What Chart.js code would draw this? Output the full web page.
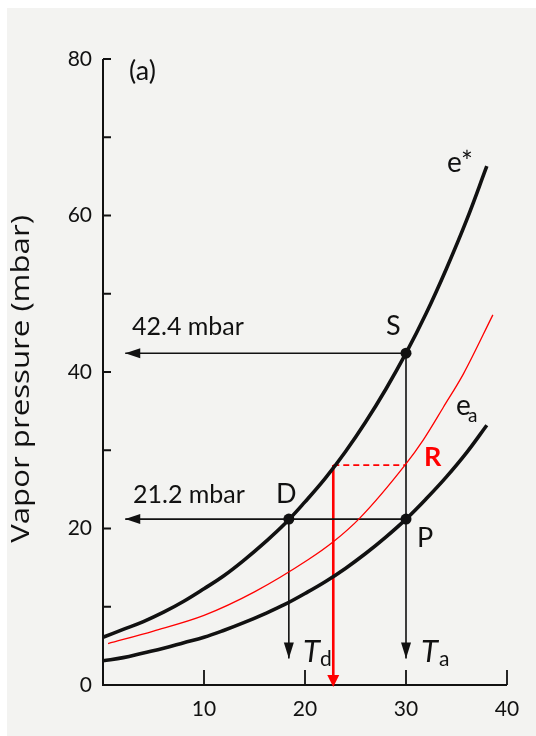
<!DOCTYPE html>
<html>
<head>
<meta charset="utf-8">
<script src="https://cdn.jsdelivr.net/npm/chart.js@4/dist/chart.umd.min.js"></script>
<style>
  html, body { margin: 0; padding: 0; background: #ffffff; }
  #wrap { width: 536px; height: 736px; position: relative; }
</style>
</head>
<body>
<div id="wrap"><canvas id="c" width="536" height="736"></canvas></div>
<script>
// ---- data ----
const temperature = [0, 2, 4, 6, 8, 10, 12, 14, 16, 18, 20, 22, 24, 26, 28, 30, 32, 34, 36, 38];
const eSaturation = [6.1, 7.1, 8.1, 9.3, 10.7, 12.3, 14.0, 16.0, 18.2, 20.6, 23.4, 26.4, 29.8, 33.6, 37.8, 42.4, 47.5, 53.2, 59.4, 66.3];
const eActual     = [3.1, 3.5, 4.1, 4.7, 5.4, 6.1, 7.0, 8.0, 9.1, 10.3, 11.7, 13.2, 14.9, 16.8, 18.9, 21.2, 23.8, 26.6, 29.7, 33.2];
const redTemperature = [0.5, 5, 10, 15, 20.3, 22.8, 25.4, 29.9, 31.7, 33.7, 35.7, 38.6];
const redPressure    = [5.3, 6.9, 8.9, 11.9, 16.0, 18.3, 21.3, 28.1, 31.3, 35.5, 39.8, 47.3];
const markerLabels = ['S', 'D', 'P'];
const markerTemp   = [30, 18.4, 30];
const markerPress  = [42.4, 21.2, 21.2];
const airTemp = 30;        // T_a
const dewTemp = 18.4;      // T_d
const redTemp = 22.8;      // red drop line
const redLevel = 28.1;     // red dashed level
const arrowLeftEnd = 2.2;  // horizontal arrow tips (°C)
const arrowDownEnd = 3.4;  // vertical arrow tips (mbar)
const xTicks = [10, 20, 30, 40];
const yTicks = [0, 20, 40, 60, 80];
const yMinorTicks = [10, 30, 50, 70];
const pressureLabels = ['42.4 mbar', '21.2 mbar'];

const pts = (xs, ys) => xs.map((x, i) => ({x: x, y: ys[i]}));
const seg = (x1, y1, x2, y2) => [{x: x1, y: y1}, {x: x2, y: y2}];

const lineDs = (data, color, width, extra) => Object.assign({
  data: data, showLine: true, borderColor: color, backgroundColor: color,
  borderWidth: width, pointRadius: 0, pointHoverRadius: 0, fill: false
}, extra || {});

const datasets = [
  lineDs(pts(temperature, eSaturation), '#111', 3.6, {tension: 0.4}),
  lineDs(pts(temperature, eActual), '#111', 3.6, {tension: 0.4}),
  lineDs(pts(redTemperature, redPressure), '#ff0000', 1.3, {cubicInterpolationMode: 'monotone'}),
  lineDs(seg(markerTemp[0], markerPress[0], arrowLeftEnd, markerPress[0]), '#111', 1.6),
  lineDs(seg(markerTemp[2], markerPress[2], arrowLeftEnd, markerPress[2]), '#111', 1.6),
  lineDs(seg(airTemp, markerPress[0], airTemp, arrowDownEnd), '#111', 1.6),
  lineDs(seg(dewTemp, markerPress[1], dewTemp, arrowDownEnd), '#111', 1.6),
  lineDs(seg(redTemp, redLevel, airTemp, redLevel), '#ff0000', 1.6, {borderDash: [6, 4]}),
  lineDs(seg(redTemp, redLevel, redTemp, 0), '#ff0000', 2.6),
  {data: pts(markerTemp, markerPress), showLine: false, pointRadius: 5.5, pointHoverRadius: 5.5,
   backgroundColor: '#111', borderColor: '#111', borderWidth: 0}
];

function arrowHead(ctx, tipX, tipY, dir, len, half, color) {
  ctx.save();
  ctx.fillStyle = color;
  ctx.beginPath();
  ctx.moveTo(tipX, tipY);
  if (dir === 'left') { ctx.lineTo(tipX + len, tipY - half); ctx.lineTo(tipX + len, tipY + half); }
  else { ctx.lineTo(tipX - half, tipY - len); ctx.lineTo(tipX + half, tipY - len); }
  ctx.closePath();
  ctx.fill();
  ctx.restore();
}

const decor = {
  id: 'decor',
  beforeDraw(chart) {
    const ctx = chart.ctx;
    ctx.save();
    ctx.fillStyle = '#ffffff';
    ctx.fillRect(0, 0, chart.width, chart.height);
    ctx.fillStyle = '#f3f3f1';
    ctx.fillRect(7, 8, chart.width - 7, chart.height - 8);
    ctx.restore();
  },
  afterDatasetsDraw(chart) {
    const ctx = chart.ctx;
    const xs = chart.scales.x, ys = chart.scales.y;
    const X = v => xs.getPixelForValue(v), Y = v => ys.getPixelForValue(v);
    ctx.save();
    // axes
    ctx.strokeStyle = '#111';
    ctx.lineWidth = 2;
    ctx.beginPath();
    ctx.moveTo(X(0), Y(80)); ctx.lineTo(X(0), Y(0)); ctx.lineTo(X(40), Y(0));
    ctx.stroke();
    ctx.lineWidth = 1.8;
    ctx.beginPath();
    yTicks.concat(yMinorTicks).forEach(v => { if (v > 0) { ctx.moveTo(X(0), Y(v)); ctx.lineTo(X(0) + 8, Y(v)); } });
    xTicks.forEach(v => { ctx.moveTo(X(v), Y(0)); ctx.lineTo(X(v), Y(0) - 15); });
    ctx.stroke();

    // arrowheads
    arrowHead(ctx, X(arrowLeftEnd), Y(markerPress[0]), 'left', 15, 5, '#111');
    arrowHead(ctx, X(arrowLeftEnd), Y(markerPress[2]), 'left', 15, 5, '#111');
    arrowHead(ctx, X(airTemp), Y(arrowDownEnd), 'down', 16, 5, '#111');
    arrowHead(ctx, X(dewTemp), Y(arrowDownEnd), 'down', 16, 5, '#111');
    arrowHead(ctx, X(redTemp), Y(0) + 2, 'down', 12, 6, '#ff0000');

    // texts
    ctx.fillStyle = '#111';
    ctx.textBaseline = 'alphabetic';
    ctx.textAlign = 'left';
    ctx.font = '27px Lato';
    ctx.fillText('(a)', 129, 80);
    ctx.font = '25px Lato';
    ctx.fillText(pressureLabels[0], 132, 335);
    ctx.fillText(pressureLabels[1], 133, 503);
    ctx.font = '27px Lato';
    ctx.fillText(markerLabels[0], 386, 335);
    ctx.fillText(markerLabels[1], 276, 503);
    ctx.fillText(markerLabels[2], 417, 547);
    ctx.font = '28px Lato';
    ctx.fillText('e*', 447, 172);
    ctx.fillText('e', 456, 415);
    ctx.font = '19px Lato';
    ctx.fillText('a', 468, 422);
    ctx.font = 'italic 31px Lato';
    ctx.fillText('T', 303, 662);
    ctx.fillText('T', 421, 662);
    ctx.font = '21px Lato';
    ctx.fillText('d', 320, 666);
    ctx.fillText('a', 439, 666);
    ctx.fillStyle = '#ff0000';
    ctx.font = 'bold 27px Lato';
    ctx.fillText('R', 424, 466);

    // y title
    ctx.fillStyle = '#111';
    ctx.font = '26px "Open Sans"';
    ctx.textAlign = 'center';
    ctx.textBaseline = 'middle';
    ctx.translate(22, 379);
    ctx.rotate(-Math.PI / 2);
    ctx.scale(1.2, 1);
    ctx.fillText('Vapor pressure (mbar)', 0, 0);
    ctx.restore();
  }
};

new Chart(document.getElementById('c'), {
  type: 'scatter',
  data: {datasets: datasets},
  options: {
    responsive: false,
    animation: false,
    events: [],
    layout: {padding: {left: 0, right: 29, top: 59, bottom: 0}},
    plugins: {legend: {display: false}, tooltip: {enabled: false}},
    scales: {
      x: {
        type: 'linear', min: 0, max: 40,
        afterFit: s => { s.height = 51; },
        afterBuildTicks: s => { s.ticks = [0].concat(xTicks).map(v => ({value: v})); },
        grid: {display: false, drawTicks: false},
        border: {display: false},
        ticks: {padding: 12, color: '#111', font: {family: 'Lato', size: 21},
                callback: v => (v === 0 ? '' : String(v))}
      },
      y: {
        type: 'linear', min: 0, max: 80,
        afterFit: s => { s.width = 103; },
        afterBuildTicks: s => { s.ticks = yTicks.map(v => ({value: v})); },
        grid: {display: false, drawTicks: false},
        border: {display: false},
        ticks: {padding: 11, color: '#111', font: {family: 'Lato', size: 21}}
      }
    }
  },
  plugins: [decor]
});
</script>
</body>
</html>
